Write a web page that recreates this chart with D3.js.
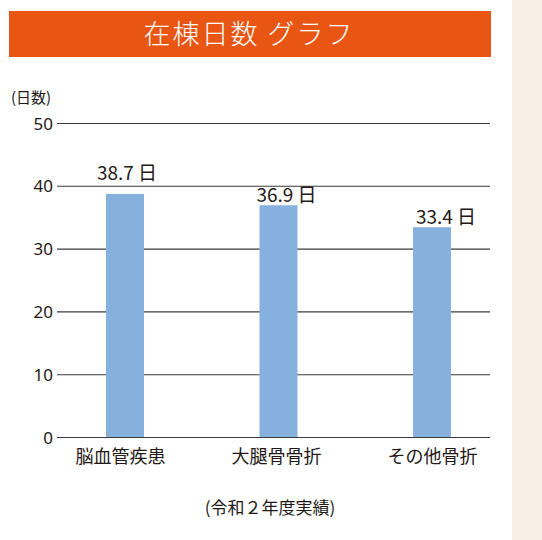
<!DOCTYPE html>
<html>
<head>
<meta charset="utf-8">
<script src="https://d3js.org/d3.v7.min.js"></script>
<style>
    body { margin: 0; background: #fff; }
    svg { display: block; font-family: "Noto Sans CJK JP", "Noto Sans", sans-serif; }
</style>
</head>
<body>
<svg id="chart" width="542" height="540"></svg>
<script>
    // data
    var categories = ['脳血管疾患', '大腿骨骨折', 'その他骨折'];
    var days = [38.7, 36.9, 33.4];
    var yTicks = [0, 10, 20, 30, 40, 50];

    var svg = d3.select('#chart');
    var textColor = '#231815';

    // beige strip on right
    svg.append('rect')
        .attr('x', 512).attr('y', 0)
        .attr('width', 30).attr('height', 540)
        .attr('fill', '#f6f0e7');

    // title bar
    svg.append('rect')
        .attr('x', 9).attr('y', 11)
        .attr('width', 482).attr('height', 46)
        .attr('fill', '#e95513');
    svg.append('text')
        .attr('x', 249).attr('y', 44)
        .attr('text-anchor', 'middle')
        .attr('fill', '#fff')
        .attr('font-size', 27)
        .attr('font-weight', 300)
        .attr('letter-spacing', 2)
        .text('在棟日数 グラフ');

    var plotL = 57, plotR = 490, plotT = 123, plotB = 437;

    var y = d3.scaleLinear().domain([0, 50]).range([plotB, plotT]);
    var x = d3.scalePoint().domain(categories).range([120, 432]);      // category labels
    var xBar = d3.scalePoint().domain(categories).range([125, 432]);   // bars
    var xVal = d3.scalePoint().domain(categories).range([127, 446]);   // value labels

    // grid lines + tick labels
    var yAxis = d3.axisLeft(y).tickValues(yTicks).tickSize(-(plotR - plotL)).tickPadding(4);
    var g = svg.append('g')
        .attr('transform', 'translate(' + plotL + ',0)')
        .call(yAxis);
    g.select('.domain').remove();
    g.selectAll('.tick line').attr('stroke', '#3e3a39').attr('stroke-width', 1.1);
    g.selectAll('.tick text')
        .attr('fill', textColor)
        .attr('font-size', 17)
        .attr('font-family', '"Noto Sans", sans-serif')
        .attr('dy', '0.36em');

    svg.append('text')
        .attr('x', 11).attr('y', 103)
        .attr('fill', textColor)
        .attr('font-size', 15)
        .text('(日数)');

    // bars
    var barW = 38;
    svg.selectAll('.bar')
        .data(days)
        .enter()
        .append('rect')
        .attr('class', 'bar')
        .attr('x', function(d, i) { return xBar(categories[i]) - barW / 2; })
        .attr('y', function(d) { return y(d); })
        .attr('width', barW)
        .attr('height', function(d) { return plotB - y(d); })
        .attr('fill', '#86b1de');

    // value labels - sit just above the bar, but hop over a grid line if they'd cross it
    function labelY(d) {
        var base = y(d) - 3;
        yTicks.forEach(function(t) {
            var ty = y(t);
            if (ty > base - 14 && ty < base) base = ty - 6;
        });
        return base;
    }
    svg.selectAll('.val')
        .data(days)
        .enter()
        .append('text')
        .attr('class', 'val')
        .attr('x', function(d, i) { return xVal(categories[i]); })
        .attr('y', labelY)
        .attr('text-anchor', 'middle')
        .attr('fill', textColor)
        .attr('font-size', 19)
        .text(function(d) { return d.toFixed(1) + ' 日'; });

    // category labels
    var xAxis = d3.axisBottom(x).tickSize(0).tickPadding(0);
    var gx = svg.append('g')
        .attr('transform', 'translate(0,' + plotB + ')')
        .call(xAxis);
    gx.select('.domain').remove();
    gx.selectAll('.tick text')
        .attr('fill', textColor)
        .attr('font-size', 18)
        .attr('font-family', '"Noto Sans CJK JP", sans-serif')
        .attr('dy', null)
        .attr('y', 26);

    // caption
    svg.append('text')
        .attr('x', 270).attr('y', 514)
        .attr('text-anchor', 'middle')
        .attr('fill', textColor)
        .attr('font-size', 17)
        .text('(令和２年度実績)');
</script>
</body>
</html>
